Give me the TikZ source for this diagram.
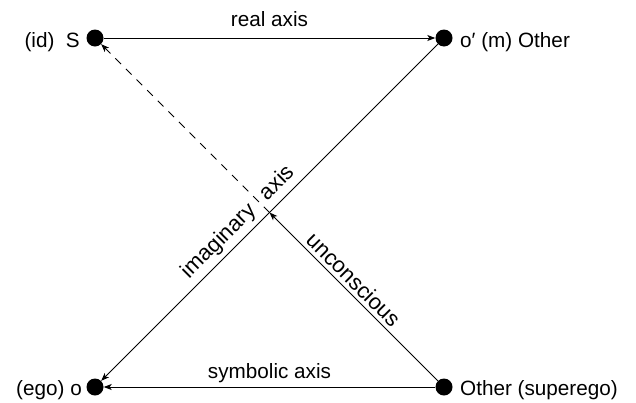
\documentclass[tikz,border=0pt]{standalone}
\usepackage{fontspec}
\setmainfont{Liberation Sans}
\usetikzlibrary{arrows.meta,calc}
\begin{document}
\begin{tikzpicture}[x=1pt,y=-1pt,
  dot/.style={circle,fill=black,inner sep=0pt,minimum size=17pt},
  txt/.style={inner sep=0pt,font=\fontsize{20.7}{24}\selectfont},
  rtxt/.style={inner sep=0pt,font=\fontsize{22}{26}\selectfont},
  conn/.style={line width=1pt,-{Stealth[length=8pt,width=6pt,inset=2pt]}},
  dconn/.style={conn,dash pattern=on 8pt off 7pt},
]
\useasboundingbox (0,0) rectangle (636,402);
\node[dot] (S) at (95,38) {};
\node[dot] (op) at (444,38) {};
\node[dot] (o) at (95,387) {};
\node[dot] (Oth) at (444,387) {};
\node[txt,anchor=base east] (Sl) at (80,47) {(id)\ \ S};
\node[txt,anchor=base west] (opl) at (460,47) {o′ (m) Other};
\node[txt,anchor=base east] (ol) at (82,395) {(ego) o};
\node[txt,anchor=base west] (Othl) at (460,395) {Other (superego)};
\coordinate (X) at (intersection of op--o and S--Oth);
\draw[conn] (S) -- node[txt,midway,anchor=base,yshift=12pt] (ra) {real axis} (op);
\draw[conn] (Oth) -- node[txt,midway,anchor=base,yshift=9pt] (sa) {symbolic axis} (o);
\draw[conn] (op) -- (o);
\draw[conn] (Oth) -- (X);
\draw[dconn] (X) -- (S);
\node[rtxt,rotate=45,anchor=base east] (ia1) at (257.0,211.8) {imaginary};
\node[rtxt,rotate=45,anchor=base west] (ia2) at (267.6,201.2) {axis};
\node[rtxt,rotate=-45,anchor=base] (un) at (348.2,285.1) {unconscious};
\end{tikzpicture}
\end{document}
